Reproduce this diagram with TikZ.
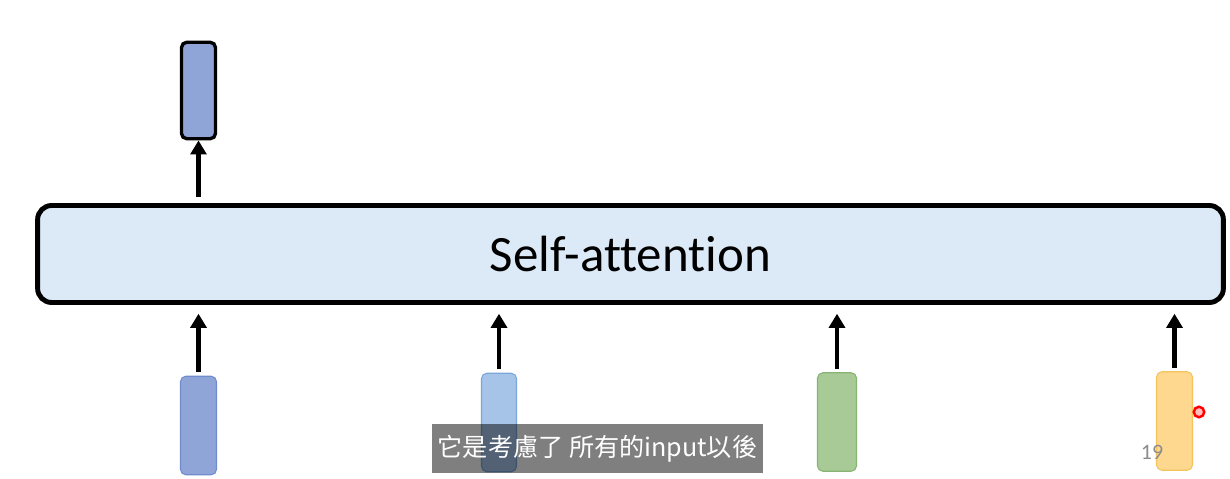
\documentclass[tikz,border=0pt]{standalone}
\usepackage{fontspec}
\setmainfont[Ligatures=NoCommon]{Carlito}
\newfontfamily\cjk{Noto Sans CJK TC}
\usetikzlibrary{arrows.meta, positioning}
\definecolor{safill}{RGB}{220,233,246}
\definecolor{vecblue}{RGB}{143,165,216}
\definecolor{vecblueline}{RGB}{112,140,204}
\definecolor{veclight}{RGB}{165,196,232}
\definecolor{veclightline}{RGB}{122,166,220}
\definecolor{vecgreen}{RGB}{168,202,150}
\definecolor{vecgreenline}{RGB}{134,180,116}
\definecolor{vecyellow}{RGB}{253,216,142}
\definecolor{vecyellowline}{RGB}{245,196,92}
\tikzstyle{layer} = [rectangle, rounded corners=8pt, minimum width=23.72cm, minimum height=1.94cm, align=center, draw=black, line width=2.8pt, fill=safill, font=\fontsize{29}{34}\selectfont]
\tikzstyle{outvec} = [rectangle, rounded corners=3pt, minimum width=0.68cm, minimum height=1.93cm, inner sep=0pt, draw=black, line width=1.9pt, fill=vecblue]
\tikzstyle{invec} = [rectangle, rounded corners=3pt, minimum height=1.97cm, inner sep=0pt, line width=0.6pt]
\tikzstyle{connector} = [line width=2.8pt, -{Triangle[width=9pt, length=8pt]}]

\begin{document}
\begin{tikzpicture}[x=0.02cm, y=-0.02cm]

  % Page frame
  \fill[white] (0,0) rectangle (1230,479);

  % Central layer
  \node (sa) at (630.5,254) [layer] {Self-attention};

  % Output vector
  \node (out1) at (198.5,90.5) [outvec] {};

  % Input vectors
  \node (in1) at (198.5,425.5) [invec, minimum width=0.72cm, draw=vecblueline, fill=vecblue] {};
  \node (in2) at (499,422.5) [invec, minimum width=0.7cm, draw=veclightline, fill=veclight] {};
  \node (in3) at (837,422) [invec, minimum width=0.78cm, draw=vecgreenline, fill=vecgreen] {};
  \node (in4) at (1174.5,421) [invec, minimum width=0.72cm, draw=vecyellowline, fill=vecyellow] {};

  % Arrows into the layer
  \draw[connector, shorten <=2pt, shorten >=5pt] (in1) -- (in1 |- sa.south);
  \draw[connector, shorten <=2pt, shorten >=5pt] (in2) -- (in2 |- sa.south);
  \draw[connector, shorten <=2pt, shorten >=5pt] (in3) -- (in3 |- sa.south);
  \draw[connector, shorten <=2pt, shorten >=5pt] (in4) -- (in4 |- sa.south);

  % Arrow out of the layer
  \draw[connector, shorten <=3.5pt] (out1 |- sa.north) -- (out1);

  % Subtitle and page number
  \node (caption) at (597.5,448.5) [rectangle, minimum width=6.62cm, minimum height=0.98cm, fill=black, fill opacity=0.5, text opacity=1, text=white, font=\cjk\fontsize{14.3}{16}\selectfont] {它是考慮了 所有的input以後};
  \node (pagenum) at (1152,452) [text=black!45, font=\fontsize{12.5}{14}\selectfont] {19};

  % Pointer
  \node (pointer) at (1199,412) [circle, minimum size=0.21cm, inner sep=0pt, draw=red, line width=1.4pt, fill=red!25] {};

\end{tikzpicture}
\end{document}
